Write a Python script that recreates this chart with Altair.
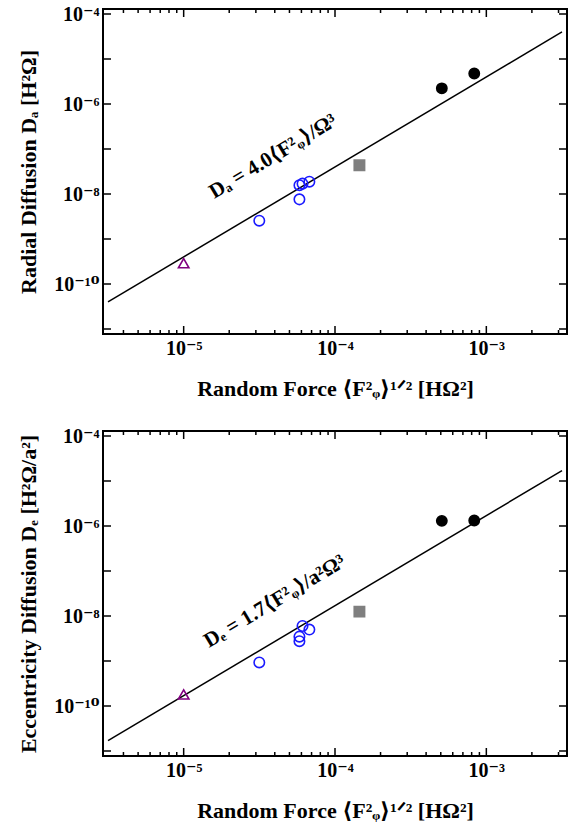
import math
import altair as alt
import pandas as pd

# ---------------- data ----------------
kind = ["triangle", "circle", "circle", "circle", "circle", "circle", "square", "dot", "dot"]
force = [1.0e-5, 3.16e-5, 5.82e-5, 5.82e-5, 6.1e-5, 6.77e-5, 1.45e-4, 5.08e-4, 8.32e-4]
d_a = [2.9e-10, 2.55e-9, 7.6e-9, 1.57e-8, 1.7e-8, 1.88e-8, 4.36e-8, 2.23e-6, 4.78e-6]
d_e = [1.8e-10, 9.3e-10, 2.76e-9, 3.48e-9, 6.0e-9, 5.0e-9, 1.25e-8, 1.3e-6, 1.33e-6]

fit_coef = [4.0, 1.7]
eq_labels = ["Dₐ = 4.0⟨F²ᵩ⟩/Ω³", "Dₑ = 1.7⟨F²ᵩ⟩/a²Ω³"]
eq_x = [3.9e-5, 4.0e-5]
eq_y = [6.8e-8, 2.1e-8]

y_titles = ["Radial Diffusion  Dₐ [H²Ω]", "Eccentricity Diffusion  Dₑ [H²Ω/a²]"]
x_title = "Random Force  ⟨F²ᵩ⟩¹ᐟ² [HΩ²]"

x_domain_exp = [-5.5, -2.5]
y_domain_exp = [-11, -4]
x_tick_labels = {-5: "10⁻⁵", -4: "10⁻⁴", -3: "10⁻³"}
y_tick_labels = {-4: "10⁻⁴", -6: "10⁻⁶", -8: "10⁻⁸", -10: "10⁻¹⁰"}

kind_domain = ["triangle", "circle", "square", "dot"]
kind_shape = ["triangle-up", "circle", "square", "circle"]
kind_fill = ["transparent", "transparent", "#7f7f7f", "black"]
kind_stroke = ["#800080", "#1a1aff", "#7f7f7f", "black"]
kind_size = [110, 106, 80, 115]

# ---------------- helpers ----------------
FONT = "Liberation Serif, DejaVu Serif, serif"
W, H = 464, 325
MAJ, MIN = 8, 4

xmin, xmax = 10 ** x_domain_exp[0], 10 ** x_domain_exp[1]
ymin, ymax = 10 ** y_domain_exp[0], 10 ** y_domain_exp[1]

x_major = [10.0 ** d for d in range(-6, -1) if xmin <= 10.0 ** d <= xmax]
x_minor = [k * 10.0 ** d for d in range(-6, -1) for k in range(2, 10)
           if xmin * 0.999 <= k * 10.0 ** d <= xmax * 1.001]
y_major = [10.0 ** e for e in range(y_domain_exp[0], y_domain_exp[1] + 1)]

LOG = "(log(datum.value)/LN10)"


def lab_expr(mapping):
    s = ""
    for e, t in mapping.items():
        s += f"abs({LOG} - ({e})) < 0.01 ? '{t}' : "
    return s + "''"


base = dict(
    domain=False, grid=False, ticks=False,
    labelFont=FONT, labelFontSize=20, labelFontWeight="bold", labelColor="black",
    labelFlush=False, labelOverlap=False, labelBound=False, labelPadding=4,
    titleFont=FONT, titleFontSize=22, titleFontWeight="bold", titleColor="black",
)

xscale = alt.Scale(type="log", domain=[xmin, xmax], nice=False)
yscale = alt.Scale(type="log", domain=[ymin, ymax], nice=False)

angle = -math.degrees(math.atan(2 * (H / (y_domain_exp[1] - y_domain_exp[0]))
                                / (W / (x_domain_exp[1] - x_domain_exp[0]))))


def xticks(values, size, side):
    df = pd.DataFrame({"x": values})
    y0, y1 = (H, H - size) if side == "bottom" else (0, size)
    return alt.Chart(df).mark_bar(width=1.5, color="black", opacity=1).encode(
        x=alt.X("x:Q", scale=xscale),
        y=alt.value(y0), y2=alt.value(y1),
    )


def yticks(values, size, side):
    df = pd.DataFrame({"y": values})
    x0, x1 = (0, size) if side == "left" else (W, W - size)
    return alt.Chart(df).mark_bar(height=1.5, color="black", opacity=1).encode(
        y=alt.Y("y:Q", scale=yscale),
        x=alt.value(x0), x2=alt.value(x1),
    )


def panel(i, yvals):
    c = fit_coef[i]
    line_df = pd.DataFrame({"x": [xmin, xmax], "y": [c * xmin ** 2, c * xmax ** 2]})
    pts_df = pd.DataFrame({"x": force, "y": yvals, "kind": kind})
    eq_df = pd.DataFrame({"x": [eq_x[i]], "y": [eq_y[i]], "t": [eq_labels[i]]})

    line = alt.Chart(line_df).mark_line(color="black", strokeWidth=1.5).encode(
        x=alt.X("x:Q", scale=xscale,
                axis=alt.Axis(orient="bottom", values=x_major, labelExpr=lab_expr(x_tick_labels),
                              title=x_title, titlePadding=20, **base)),
        y=alt.Y("y:Q", scale=yscale,
                axis=alt.Axis(orient="left", values=y_major, labelExpr=lab_expr(y_tick_labels),
                              title=y_titles[i], titlePadding=13, **base)),
    )
    pts = alt.Chart(pts_df).mark_point(strokeWidth=1.6, opacity=1).encode(
        x=alt.X("x:Q", scale=xscale),
        y=alt.Y("y:Q", scale=yscale),
        shape=alt.Shape("kind:N", scale=alt.Scale(domain=kind_domain, range=kind_shape), legend=None),
        fill=alt.Fill("kind:N", scale=alt.Scale(domain=kind_domain, range=kind_fill), legend=None),
        stroke=alt.Stroke("kind:N", scale=alt.Scale(domain=kind_domain, range=kind_stroke), legend=None),
        size=alt.Size("kind:N", scale=alt.Scale(domain=kind_domain, range=kind_size), legend=None),
    )
    txt = alt.Chart(eq_df).mark_text(
        angle=(angle + 360) % 360, font=FONT, fontSize=21, fontWeight="bold", color="black"
    ).encode(
        x=alt.X("x:Q", scale=xscale),
        y=alt.Y("y:Q", scale=yscale),
        text="t:N",
    )
    ticks = [
        xticks(x_major, MAJ, "bottom"), xticks(x_major, MAJ, "top"),
        xticks(x_minor, MIN, "bottom"), xticks(x_minor, MIN, "top"),
        yticks(y_major, MAJ, "left"), yticks(y_major, MAJ, "right"),
    ]
    return alt.layer(line, *ticks, pts, txt).properties(width=W, height=H)


chart = alt.vconcat(panel(0, d_a), panel(1, d_e), spacing=24).properties(
    padding={"left": 16, "top": 2, "right": 10, "bottom": 5},
    background="white",
).configure_view(stroke="black", strokeWidth=2)

chart.save("out.html", embed_options={"renderer": "svg", "actions": False})
